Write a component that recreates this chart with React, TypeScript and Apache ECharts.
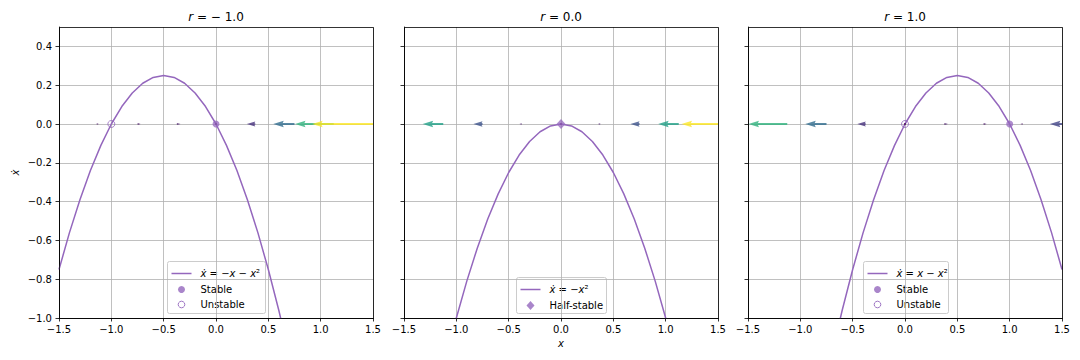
import React, { useEffect, useRef } from 'react';
import * as echarts from 'echarts';

// ---------- data ----------
const rValues = [-1.0, 0.0, 1.0];

const curveX = [
  -1.5, -1.4, -1.3, -1.2, -1.1, -1.0, -0.9, -0.8, -0.7, -0.6, -0.5, -0.4, -0.3, -0.2, -0.1, 0.0,
  0.1, 0.2, 0.3, 0.4, 0.5, 0.6, 0.7, 0.8, 0.9, 1.0, 1.1, 1.2, 1.3, 1.4, 1.5,
];
const curveY_rNeg1 = [
  -0.75, -0.56, -0.39, -0.24, -0.11, 0.0, 0.09, 0.16, 0.21, 0.24, 0.25, 0.24, 0.21, 0.16, 0.09, 0.0,
  -0.11, -0.24, -0.39, -0.56, -0.75, -0.96, -1.19, -1.44, -1.71, -2.0, -2.31, -2.64, -2.99, -3.36, -3.75,
];
const curveY_r0 = [
  -2.25, -1.96, -1.69, -1.44, -1.21, -1.0, -0.81, -0.64, -0.49, -0.36, -0.25, -0.16, -0.09, -0.04, -0.01, 0.0,
  -0.01, -0.04, -0.09, -0.16, -0.25, -0.36, -0.49, -0.64, -0.81, -1.0, -1.21, -1.44, -1.69, -1.96, -2.25,
];
const curveY_r1 = [
  -3.75, -3.36, -2.99, -2.64, -2.31, -2.0, -1.71, -1.44, -1.19, -0.96, -0.75, -0.56, -0.39, -0.24, -0.11, 0.0,
  0.09, 0.16, 0.21, 0.24, 0.25, 0.24, 0.21, 0.16, 0.09, 0.0, -0.11, -0.24, -0.39, -0.56, -0.75,
];

const arrowX = [-1.5, -1.125, -0.75, -0.375, 0.0, 0.375, 0.75, 1.125, 1.5];
const arrowU_rNeg1 = [-0.75, -0.14, 0.19, 0.23, 0.0, -0.52, -1.31, -2.39, -3.75];
const arrowU_r0 = [-2.25, -1.27, -0.56, -0.14, 0.0, -0.14, -0.56, -1.27, -2.25];
const arrowU_r1 = [-3.75, -2.39, -1.31, -0.52, 0.0, 0.23, 0.19, -0.14, -0.75];

const stable_rNeg1 = [[0.0, 0.0]];
const unstable_rNeg1 = [[-1.0, 0.0]];
const halfStable_r0 = [[0.0, 0.0]];
const stable_r1 = [[1.0, 0.0]];
const unstable_r1 = [[0.0, 0.0]];

const xTicks = [-1.5, -1.0, -0.5, 0.0, 0.5, 1.0, 1.5];
const yTicks = [-1.0, -0.8, -0.6, -0.4, -0.2, 0.0, 0.2, 0.4];

const curveLabels = [
  '{i|ẋ} = −{i|x} − {i|x}²',
  '{i|ẋ} = −{i|x}²',
  '{i|ẋ} = {i|x} − {i|x}²',
];

// ---------- styles ----------
const PURPLE = '#9467bd';
const FONT = 'DejaVu Sans';
const PANEL_LEFT = [59, 404, 748];
const PANEL_TOP = 27;
const PANEL_W = 314;
const PANEL_H = 291;
const ARROW_SCALE = 0.155; // x-units per unit of xdot
const ARROW_W = 2.1;

const VIRIDIS = [
  '#440154', '#482475', '#414487', '#355f8d', '#2a788e', '#21918c',
  '#22a884', '#44bf70', '#7ad151', '#bddf26', '#fde725',
];
function hexToRgb(h: string) {
  return [parseInt(h.slice(1, 3), 16), parseInt(h.slice(3, 5), 16), parseInt(h.slice(5, 7), 16)];
}
function viridis(t: number) {
  const tt = Math.max(0, Math.min(1, t)) * (VIRIDIS.length - 1);
  const i = Math.min(Math.floor(tt), VIRIDIS.length - 2);
  const f = tt - i;
  const a = hexToRgb(VIRIDIS[i]);
  const b = hexToRgb(VIRIDIS[i + 1]);
  const c = a.map((v, k) => Math.round(v + (b[k] - v) * f));
  return `rgb(${c[0]},${c[1]},${c[2]})`;
}

function makeArrowRender(maxMag: number) {
  return (params: any, api: any) => {
    const x = api.value(0);
    const u = api.value(2);
    const p0 = api.coord([x, 0]);
    const p1 = api.coord([x + ARROW_SCALE * u, 0]);
    const L = Math.abs(p1[0] - p0[0]);
    const d = p1[0] >= p0[0] ? 1 : -1;
    const color = viridis(Math.abs(u) / maxMag);
    const W = ARROW_W;
    if (L < W) {
      return { type: 'circle', shape: { cx: p0[0], cy: p0[1], r: W / 2 }, style: { fill: color, opacity: 0.8 } };
    }
    let pts: number[][];
    if (L >= 5 * W) {
      pts = [[0, -W / 2], [L - 4.5 * W, -W / 2], [L - 5 * W, -1.5 * W], [L, 0], [L - 5 * W, 1.5 * W], [L - 4.5 * W, W / 2], [0, W / 2]];
    } else {
      const k = L / (5 * W);
      pts = [[0, -W / 2], [0.5 * W, -W / 2], [0, -1.5 * W], [5 * W, 0], [0, 1.5 * W], [0.5 * W, W / 2], [0, W / 2]].map(
        ([a, b]) => [a * k, b * k]
      );
    }
    return {
      type: 'polygon',
      shape: { points: pts.map(([a, b]) => [p0[0] + d * a, p0[1] + b]) },
      style: { fill: color, opacity: 0.8 },
    };
  };
}

const fmt = (v: number) => {
  const s = (Math.abs(v) < 1e-9 ? 0 : v).toFixed(1);
  return s.replace('-', '−');
};

function buildOption() {
  const curves = [curveY_rNeg1, curveY_r0, curveY_r1];
  const arrows = [arrowU_rNeg1, arrowU_r0, arrowU_r1];
  const grids: any[] = [];
  const xAxes: any[] = [];
  const yAxes: any[] = [];
  const series: any[] = [];
  const graphic: any[] = [];

  const rich = {
    i: { fontStyle: 'italic', fontFamily: FONT, fontSize: 10, fill: '#000' },
  };
  const titleRich = {
    i: { fontStyle: 'italic', fontFamily: FONT, fontSize: 12, fill: '#000' },
  };

  for (let p = 0; p < 3; p++) {
    const left = PANEL_LEFT[p];
    grids.push({ left, top: PANEL_TOP, width: PANEL_W, height: PANEL_H, containLabel: false });
    xAxes.push({
      type: 'value',
      gridIndex: p,
      min: -1.5,
      max: 1.5,
      axisLine: { show: true, onZero: false, lineStyle: { color: '#000', width: 0.8 } },
      axisTick: { show: true, length: 3.5, lineStyle: { color: '#000', width: 0.8 }, customValues: xTicks },
      axisLabel: { show: true, customValues: xTicks, formatter: fmt, fontFamily: FONT, fontSize: 10, color: '#000', margin: 6 },
      splitLine: { show: true, lineStyle: { color: '#b0b0b0', width: 0.8 } },
    });
    yAxes.push({
      type: 'value',
      gridIndex: p,
      min: -1.0,
      max: 0.5,
      axisLine: { show: true, onZero: false, lineStyle: { color: '#000', width: 0.8 } },
      axisTick: { show: true, length: 3.5, lineStyle: { color: '#000', width: 0.8 }, customValues: yTicks },
      axisLabel: { show: p === 0, customValues: yTicks, formatter: fmt, fontFamily: FONT, fontSize: 10, color: '#000', margin: 7 },
      splitLine: { show: true, lineStyle: { color: '#b0b0b0', width: 0.8 } },
    });

    series.push({
      type: 'line',
      name: 'curve' + p,
      xAxisIndex: p,
      yAxisIndex: p,
      data: curveX.map((x, i) => [x, curves[p][i]]),
      showSymbol: false,
      clip: true,
      lineStyle: { color: PURPLE, width: 1.5 },
      z: 2,
    });

    const us = arrows[p];
    const maxMag = Math.max(...us.map((v) => Math.abs(v)));
    series.push({
      type: 'custom',
      name: 'arrows' + p,
      xAxisIndex: p,
      yAxisIndex: p,
      clip: true,
      data: arrowX.map((x, i) => [x, 0, us[i]]),
      encode: { x: 0, y: 1 },
      renderItem: makeArrowRender(maxMag),
      z: 3,
    });

    const markerSets: { data: number[][]; kind: string }[] =
      p === 0
        ? [{ data: stable_rNeg1, kind: 'stable' }, { data: unstable_rNeg1, kind: 'unstable' }]
        : p === 1
        ? [{ data: halfStable_r0, kind: 'half' }]
        : [{ data: stable_r1, kind: 'stable' }, { data: unstable_r1, kind: 'unstable' }];
    markerSets.forEach((m) => {
      series.push({
        type: 'scatter',
        name: m.kind + p,
        xAxisIndex: p,
        yAxisIndex: p,
        data: m.data,
        symbol: m.kind === 'half' ? 'diamond' : 'circle',
        symbolSize: m.kind === 'half' ? [9, 10] : 7,
        itemStyle:
          m.kind === 'unstable'
            ? { color: 'rgba(255,255,255,0)', borderColor: PURPLE, borderWidth: 1, opacity: 0.8 }
            : { color: PURPLE, opacity: 0.75 },
        z: 4,
      });
    });

    // frame
    graphic.push({
      type: 'rect',
      z: 100,
      shape: { x: left + 0.5, y: PANEL_TOP + 0.5, width: PANEL_W, height: PANEL_H },
      style: { fill: 'none', stroke: '#000', lineWidth: 0.8 },
      silent: true,
    });

    // title
    const r = rValues[p];
    const rTxt = r < 0 ? '− ' + Math.abs(r).toFixed(1) : r.toFixed(1);
    graphic.push({
      type: 'text',
      z: 100,
      x: left + PANEL_W / 2,
      y: 16.5,
      style: {
        text: '{i|r} = ' + rTxt,
        rich: titleRich,
        fontFamily: FONT,
        fontSize: 12,
        fill: '#000',
        align: 'center',
        verticalAlign: 'middle',
      },
    });

    // legend
    const cx = left + PANEL_W / 2;
    const boxW = p === 0 ? 98 : p === 1 ? 90 : 85;
    const boxH = p === 1 ? 36 : 52;
    const bx = Math.round(cx - boxW / 2) + 0.5;
    const by = PANEL_TOP + PANEL_H - 5 - boxH + 0.5;
    const children: any[] = [];
    children.push({
      type: 'rect',
      shape: { x: bx, y: by, width: boxW, height: boxH, r: 2 },
      style: { fill: 'rgba(255,255,255,0.8)', stroke: '#cccccc', lineWidth: 1 },
    });
    const row1 = by + 12;
    children.push({
      type: 'line',
      shape: { x1: bx + 4, y1: row1, x2: bx + 24, y2: row1 },
      style: { stroke: PURPLE, lineWidth: 1.5 },
    });
    children.push({
      type: 'text',
      x: bx + 33,
      y: row1,
      style: { text: curveLabels[p], rich, fontFamily: FONT, fontSize: 10, fill: '#000', verticalAlign: 'middle' },
    });
    const rows = markerSets.map((m, i) => ({ kind: m.kind, y: by + 28 + i * 15 }));
    rows.forEach((row) => {
      const mx = bx + 14;
      if (row.kind === 'stable') {
        children.push({ type: 'circle', shape: { cx: mx, cy: row.y, r: 3.5 }, style: { fill: PURPLE, opacity: 0.8 } });
      } else if (row.kind === 'unstable') {
        children.push({ type: 'circle', shape: { cx: mx, cy: row.y, r: 3.3 }, style: { fill: 'none', stroke: PURPLE, lineWidth: 1, opacity: 0.9 } });
      } else {
        children.push({
          type: 'polygon',
          shape: { points: [[mx, row.y - 4.5], [mx + 4, row.y], [mx, row.y + 4.5], [mx - 4, row.y]] },
          style: { fill: PURPLE, opacity: 0.8 },
        });
      }
      children.push({
        type: 'text',
        x: bx + 33,
        y: row.y,
        style: {
          text: row.kind === 'stable' ? 'Stable' : row.kind === 'unstable' ? 'Unstable' : 'Half-stable',
          fontFamily: FONT,
          fontSize: 10,
          fill: '#000',
          verticalAlign: 'middle',
        },
      });
    });
    graphic.push({ type: 'group', z: 110, children });
  }

  // axis labels
  graphic.push({
    type: 'text',
    z: 100,
    x: PANEL_LEFT[1] + PANEL_W / 2,
    y: 343,
    style: { text: 'x', fontFamily: FONT, fontSize: 10, fontStyle: 'italic', fill: '#000', align: 'center', verticalAlign: 'middle' },
  });
  graphic.push({
    type: 'text',
    z: 100,
    x: 15,
    y: PANEL_TOP + PANEL_H / 2,
    rotation: Math.PI / 2,
    style: { text: 'ẋ', fontFamily: FONT, fontSize: 10, fontStyle: 'italic', fill: '#000', align: 'center', verticalAlign: 'middle' },
  });

  return {
    animation: false,
    backgroundColor: '#ffffff',
    grid: grids,
    xAxis: xAxes,
    yAxis: yAxes,
    series,
    graphic,
  };
}

export default function App() {
  const ref = useRef<HTMLDivElement>(null);
  useEffect(() => {
    if (!ref.current) return;
    const chart = echarts.init(ref.current, undefined, { renderer: 'svg' });
    chart.setOption(buildOption() as any);
    return () => chart.dispose();
  }, []);
  return (
    <div
      ref={ref}
      style={{ position: 'absolute', left: 0, top: 0, width: 1080, height: 360, background: '#fff' }}
    />
  );
}
